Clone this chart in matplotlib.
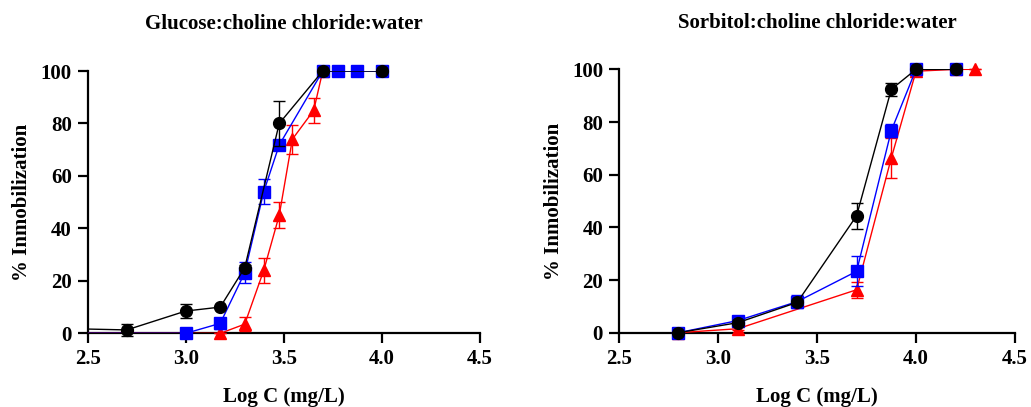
import numpy as np
import matplotlib
matplotlib.use("Agg")
import matplotlib.pyplot as plt

plt.rcParams["font.family"] = ["Liberation Serif", "DejaVu Serif"]
plt.rcParams["font.weight"] = "bold"

# Glucose:choline chloride:water  (first point of each series lies left of x=2.5, hidden)
glu_black_x = [2.398, 2.699, 3.0, 3.176, 3.301, 3.477, 3.699, 4.0]
glu_black_y = [1.8, 1.3, 8.5, 10.0, 25.0, 80.0, 100, 100]
glu_black_e = [0, 2.2, 2.8, 0.5, 1.0, 8.5, 0, 0]

glu_blue_x = [2.398, 3.0, 3.176, 3.301, 3.398, 3.477, 3.699, 3.778, 3.875, 4.0]
glu_blue_y = [0, 0, 3.8, 23.1, 54.0, 71.8, 100, 100, 100, 100]
glu_blue_e = [0, 0, 2.0, 4.0, 4.8, 0.8, 0, 0, 0, 0]

glu_red_x = [2.398, 3.176, 3.301, 3.398, 3.477, 3.544, 3.653, 3.699]
glu_red_y = [0, 0, 3.5, 24.0, 45.0, 74.0, 85.0, 100]
glu_red_e = [0, 0, 2.6, 4.7, 5.0, 5.6, 4.8, 0]

# Sorbitol:choline chloride:water
sor_black_x = [2.8, 3.1, 3.4, 3.7, 3.875, 4.0, 4.2]
sor_black_y = [0, 3.8, 11.5, 44.4, 92.4, 100, 100]
sor_black_e = [0, 1.0, 1.0, 5.0, 2.4, 0, 0]

sor_blue_x = [2.8, 3.1, 3.4, 3.7, 3.875, 4.0, 4.2]
sor_blue_y = [0, 4.6, 11.8, 23.3, 76.7, 100, 100]
sor_blue_e = [0, 1.0, 2.5, 5.7, 2.5, 0, 0]

sor_red_x = [2.8, 3.1, 3.7, 3.875, 4.0, 4.2, 4.3]
sor_red_y = [0, 1.5, 16.3, 66.3, 99.3, 100, 100]
sor_red_e = [0, 0.5, 3.0, 7.5, 0.7, 0, 0]

TITLES = ["Glucose:choline chloride:water", "Sorbitol:choline chloride:water"]
XTICKS = [2.5, 3.0, 3.5, 4.0, 4.5]
YTICKS = [0, 20, 40, 60, 80, 100]
XMIN, XMAX = 2.5, 4.5

FS = 15


def series(ax, x, y, e, color, marker, ms, z):
    x, y, e = np.asarray(x), np.asarray(y), np.asarray(e)
    vis = x >= XMIN
    # connecting line is clipped by the frame (hidden first point), marks are not
    ax.plot(x, y, color=color, lw=1.0, zorder=z)
    ax.errorbar(x[vis], y[vis], yerr=e[vis], fmt="none", ecolor=color,
                elinewidth=1.0, capsize=4, capthick=1.0, zorder=z, clip_on=False)
    ax.plot(x[vis], y[vis], ls="none", marker=marker, ms=ms, color=color,
            zorder=z + 0.5, clip_on=False)


def style(ax, title):
    ax.set_xlim(XMIN, XMAX)
    ax.set_ylim(0, 100)
    ax.set_xticks(XTICKS)
    ax.set_xticklabels([f"{t:.1f}" for t in XTICKS])
    ax.set_yticks(YTICKS)
    for s in ["top", "right"]:
        ax.spines[s].set_visible(False)
    for s in ["left", "bottom"]:
        ax.spines[s].set_linewidth(1.6)
        ax.spines[s].set_zorder(2)
    ax.tick_params(length=7.5, width=1.6, labelsize=FS, pad=4)
    for lab in ax.get_xticklabels() + ax.get_yticklabels():
        lab.set_fontweight("bold")
    ax.set_title(title, fontsize=FS, fontweight="bold", pad=30)
    ax.set_xlabel("Log C (mg/L)", fontsize=FS, fontweight="bold", labelpad=13)
    ax.set_ylabel("% Inmobilization", fontsize=FS, fontweight="bold", labelpad=6)


fig = plt.figure(figsize=(10.31, 4.07), dpi=100)
ax1 = fig.add_axes([0.0851, 0.181, 0.3802, 0.6445])
ax2 = fig.add_axes([0.6004, 0.1826, 0.3841, 0.647])

series(ax1, glu_red_x, glu_red_y, glu_red_e, "#ff0000", "^", 8.5, 3)
series(ax1, glu_blue_x, glu_blue_y, glu_blue_e, "#0000ff", "s", 8.0, 4)
series(ax1, glu_black_x, glu_black_y, glu_black_e, "#000000", "o", 8.5, 5)

series(ax2, sor_red_x, sor_red_y, sor_red_e, "#ff0000", "^", 8.5, 3)
series(ax2, sor_blue_x, sor_blue_y, sor_blue_e, "#0000ff", "s", 8.0, 4)
series(ax2, sor_black_x, sor_black_y, sor_black_e, "#000000", "o", 8.5, 5)

style(ax1, TITLES[0])
style(ax2, TITLES[1])

fig.savefig("out.png", dpi=100)
